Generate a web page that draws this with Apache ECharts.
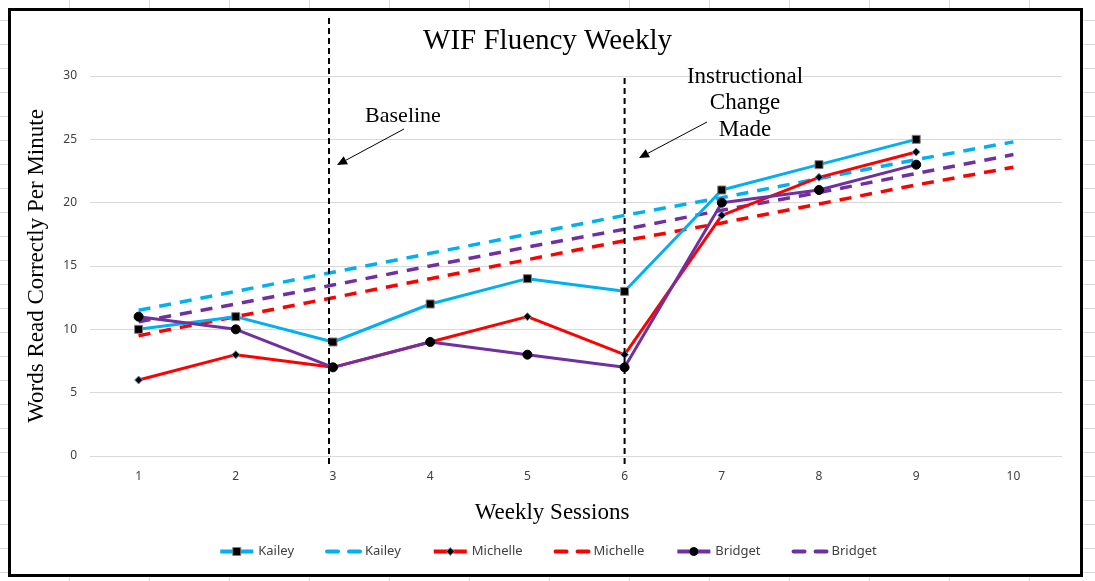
<!DOCTYPE html>
<html>
<head>
<meta charset="utf-8">
<script src="https://cdn.jsdelivr.net/npm/echarts@6/dist/echarts.min.js"></script>
<style>
  html, body { margin: 0; padding: 0; }
  body {
    width: 1095px; height: 581px; overflow: hidden; position: relative;
    background-color: #fff;
    background-image: linear-gradient(to right, #d9d9d9 1px, transparent 1px),
                      linear-gradient(to bottom, #d9d9d9 1px, transparent 1px);
    background-size: 80px 100%, 100% 24px;
    background-position: 69px 0, 0 20px;
  }
  #frame { position: absolute; left: 8px; top: 8px; width: 1075px; height: 569px;
    box-sizing: border-box; border: 3px solid #000; background: #fff; }
  #chart { position: absolute; left: 0; top: 0; width: 1095px; height: 581px; }
</style>
</head>
<body>
<div id="frame"></div>
<div id="chart"></div>
<script>
// ---- data ----
const categories = ['1', '2', '3', '4', '5', '6', '7', '8', '9', '10'];
const kailey   = [10, 11, 9, 12, 14, 13, 21, 23, 25];
const michelle = [6, 8, 7, 9, 11, 8, 19, 22, 24];
const bridget  = [11, 10, 7, 9, 8, 7, 20, 21, 23];
const kaileyTrend   = [11.5, 13, 14.5, 16, 17.5, 19, 20.4, 21.9, 23.4, 24.8];
const michelleTrend = [9.5, 11, 12.5, 14, 15.5, 17, 18.4, 19.9, 21.4, 22.8];
const bridgetTrend  = [10.6, 12, 13.5, 15, 16.5, 17.9, 19.4, 20.8, 22.3, 23.8];
const yTicks = { min: 0, max: 30, interval: 5 };

const C_K = '#00B0F0', C_M = '#FF0000', C_B = '#7030A0';
const serif = '"Liberation Serif", "Times New Roman", serif';
const sans = '"Noto Sans", "Open Sans", sans-serif';

const chart = echarts.init(document.getElementById('chart'));

function solid(name, data, color, symbol, size, border) {
  return {
    name, type: 'line', data, symbol, symbolSize: size, z: 5,
    lineStyle: { color, width: 3 },
    itemStyle: { color: '#000', borderColor: border, borderWidth: 1 },
    emphasis: { disabled: true }
  };
}
function trend(name, data, color) {
  return {
    name, type: 'line', data, symbol: 'none', z: 3,
    lineStyle: { color, width: 3.5, type: [12, 9] },
    itemStyle: { color },
    emphasis: { disabled: true }
  };
}
function legSolid(name, color, border) {
  return { name, itemStyle: { color: '#000', borderColor: border, borderWidth: 1 },
           lineStyle: { color, width: 4, type: 'solid' } };
}
function legDash(name, color) {
  return { name, itemStyle: { opacity: 0 },
           lineStyle: { color, width: 4, type: [11, 11], cap: 'round' } };
}

chart.setOption({
  animation: false,
  title: {
    text: 'WIF Fluency Weekly', left: 'center', top: 22,
    textStyle: { fontFamily: serif, fontWeight: 'normal', fontSize: 29, color: '#000' }
  },
  grid: { left: 90, right: 33, top: 76, bottom: 125 },
  legend: {
    bottom: 18, left: 'center', itemWidth: 33, itemHeight: 10, itemGap: 31,
    data: [
      legSolid('Kailey', C_K, '#808080'), legDash('Kailey trend', C_K),
      legSolid('Michelle', C_M, '#5B9BD5'), legDash('Michelle trend', C_M),
      legSolid('Bridget', C_B, '#000'), legDash('Bridget trend', C_B)
    ],
    formatter: n => n.replace(' trend', ''),
    textStyle: { fontFamily: sans, fontSize: 13, color: '#404040' }
  },
  xAxis: {
    type: 'category', data: categories, boundaryGap: true,
    axisLine: { show: false }, axisTick: { show: false },
    axisLabel: { fontFamily: sans, fontSize: 12, color: '#404040', margin: 15 },
    name: 'Weekly Sessions', nameLocation: 'middle', nameGap: 45,
    nameTextStyle: { fontFamily: serif, fontSize: 23, color: '#000', padding: [0, 48, 0, 0] }
  },
  yAxis: {
    type: 'value', min: yTicks.min, max: yTicks.max, interval: yTicks.interval,
    axisLine: { show: false }, axisTick: { show: false },
    axisLabel: { fontFamily: sans, fontSize: 12, color: '#404040', margin: 13 },
    splitLine: { lineStyle: { color: '#d9d9d9', width: 1 } },
    name: 'Words Read Correctly Per Minute', nameLocation: 'middle', nameGap: 42,
    nameTextStyle: { fontFamily: serif, fontSize: 23, color: '#000' }
  },
  series: [
    trend('Kailey trend', kaileyTrend, C_K),
    trend('Michelle trend', michelleTrend, C_M),
    trend('Bridget trend', bridgetTrend, C_B),
    solid('Kailey', kailey, C_K, 'rect', 8, '#808080'),
    solid('Michelle', michelle, C_M, 'diamond', 8, '#5B9BD5'),
    solid('Bridget', bridget, C_B, 'circle', 9, '#000')
  ]
});

// ---- annotations ----
function arrow(x1, y1, x2, y2) {
  const dx = x2 - x1, dy = y2 - y1, L = Math.hypot(dx, dy);
  const ux = dx / L, uy = dy / L, px = -uy, py = ux;
  const bx = x2 - ux * 10, by = y2 - uy * 10;
  return [
    { type: 'line', shape: { x1, y1, x2: bx, y2: by }, style: { stroke: '#000', lineWidth: 1 } },
    { type: 'polygon', shape: { points: [[x2, y2], [bx + px * 4.5, by + py * 4.5], [bx - px * 4.5, by - py * 4.5]] },
      style: { fill: '#000' } }
  ];
}
const x3 = chart.convertToPixel({ xAxisIndex: 0 }, 2) - 4;
const x6 = chart.convertToPixel({ xAxisIndex: 0 }, 5);
const vStyle = { stroke: '#000', lineWidth: 2, lineDash: [6, 4] };
const txt = (t, x, y, s) => ({ type: 'text', x, y, style: { text: t, font: s + 'px ' + serif, fill: '#000', align: 'center', verticalAlign: 'middle' } });

chart.setOption({
  graphic: [
    { type: 'line', shape: { x1: x3, y1: 18, x2: x3, y2: 464 }, style: vStyle, z: 10 },
    { type: 'line', shape: { x1: x6, y1: 78, x2: x6, y2: 464 }, style: vStyle, z: 10 },
    txt('Baseline', 403, 116, 22),
    ...arrow(404, 129, 337, 165),
    txt('Instructional', 745, 77, 23),
    txt('Change', 745, 103, 23),
    txt('Made', 745, 130, 23),
    ...arrow(707, 122, 639, 158)
  ]
});
</script>
</body>
</html>
